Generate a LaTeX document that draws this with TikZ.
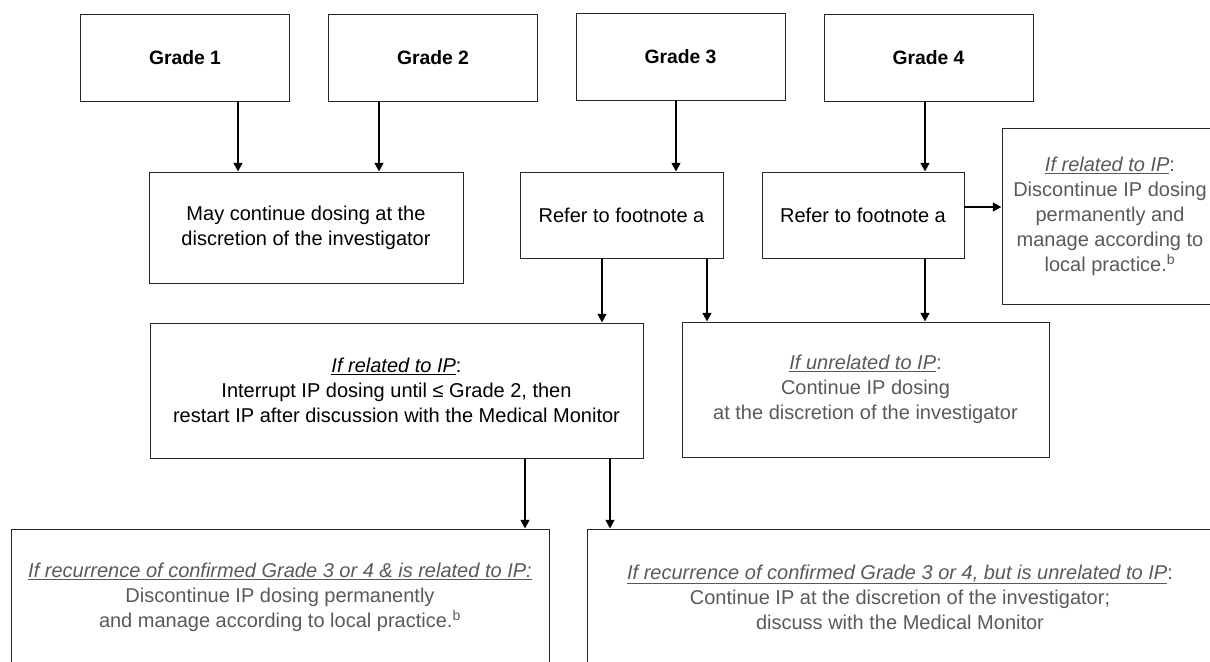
\documentclass[tikz,border=0pt]{standalone}
\usepackage{fontspec}
\setmainfont{Liberation Sans}
\usetikzlibrary{arrows.meta}
\definecolor{notegray}{RGB}{89,89,89}

\begin{document}
\begin{tikzpicture}[x=0.75pt,y=-0.75pt,
  >={Triangle[length=6.5pt,width=6.5pt]},
  arr/.style={->,line width=2pt},
  box/.style={draw=black!85,line width=0.7pt,align=center,inner sep=0pt,
    font=\fontsize{15pt}{18.75pt}\selectfont},
  gradebox/.style={box,minimum width=156.75pt,minimum height=65.25pt,
    font=\fontsize{14.5pt}{18pt}\selectfont\bfseries},
  notebox/.style={box,text=notegray}]
  \useasboundingbox (0,0) rectangle (1210,661);

  % grades
  \node[gradebox] (g1) at (185,57.5)   {Grade 1};
  \node[gradebox] (g2) at (433,57.5)   {Grade 2};
  \node[gradebox] (g3) at (680.5,56.5) {Grade 3};
  \node[gradebox] (g4) at (928.5,57.5) {Grade 4};

  % first actions
  \node[box,minimum width=235.5pt,minimum height=83.25pt] (may) at (306,227.5)
    {May continue dosing at the\\discretion of the investigator};
  \node[box,minimum width=152.25pt,minimum height=64.5pt] (r3) at (621.5,215)
    {Refer to footnote a};
  \node[box,minimum width=151.5pt,minimum height=64.5pt] (r4) at (863,215)
    {Refer to footnote a};
  \node[notebox,minimum width=162pt,minimum height=132pt] (rel4) at (1110,216)
    {\underline{\textit{If related to IP}}:\\Discontinue IP dosing\\permanently and\\manage according to\\local practice.\textsuperscript{b}};

  % grade 3/4 outcomes
  \node[box,minimum width=369.75pt,minimum height=101.25pt] (rel3) at (396.5,390.5)
    {\underline{\textit{If related to IP}}:\\Interrupt IP dosing until ≤ Grade 2, then\\restart IP after discussion with the Medical Monitor};
  \node[notebox,minimum width=275.25pt,minimum height=101.25pt] (unrel) at (865.5,389.5)
    {\underline{\textit{If unrelated to IP}}:\\Continue IP dosing\\at the discretion of the investigator};

  % recurrence
  \node[notebox,minimum width=403.5pt,minimum height=102pt] (recrel) at (280,597)
    {\underline{\textit{If recurrence of confirmed Grade 3 or 4 \& is related to IP:}}\\Discontinue IP dosing permanently\\and manage according to local practice.\textsuperscript{b}};
  \node[notebox,minimum width=469.5pt,minimum height=102pt] (recunrel) at (900,597)
    {\underline{\textit{If recurrence of confirmed Grade 3 or 4, but is unrelated to IP}}:\\Continue IP at the discretion of the investigator;\\discuss with the Medical Monitor};

  % connectors
  \draw[arr] (g1.south -| 238,0) -- (may.north -| 238,0);
  \draw[arr] (g2.south -| 379,0) -- (may.north -| 379,0);
  \draw[arr] (g3.south -| 676,0) -- (r3.north -| 676,0);
  \draw[arr] (g4.south -| 925,0) -- (r4.north -| 925,0);
  \draw[arr] (r4.east |- 0,207) -- (rel4.west |- 0,207);
  \draw[arr] (r3.south -| 602,0) -- (rel3.north -| 602,0);
  \draw[arr] (r3.south -| 707,0) -- (unrel.north -| 707,0);
  \draw[arr] (r4.south -| 925,0) -- (unrel.north -| 925,0);
  \draw[arr] (rel3.south -| 525,0) -- (recrel.north -| 525,0);
  \draw[arr] (rel3.south -| 610,0) -- (recunrel.north -| 610,0);
\end{tikzpicture}
\end{document}
